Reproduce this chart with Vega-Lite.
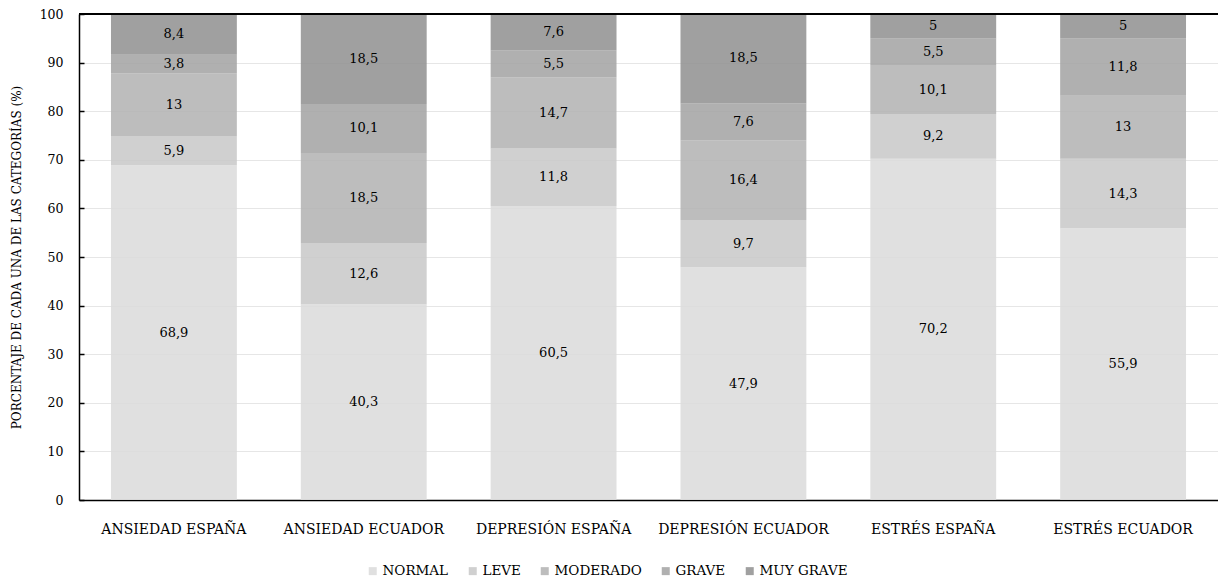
{
  "$schema": "https://vega.github.io/schema/vega-lite/v6.json",
  "width": 1139,
  "height": 486,
  "autosize": {"type": "none"},
  "padding": {"left": 79, "top": 14, "right": 0, "bottom": 79},
  "config": {
    "font": "DejaVu Serif",
    "view": {"stroke": null},
    "locale": {"number": {"decimal": ",", "thousands": ".", "grouping": [3], "currency": ["", " €"]}}
  },
  "data": {
    "values": [
      {"grupo": "ANSIEDAD ESPAÑA", "nivel": "NORMAL", "orden": 1, "valor": 68.9},
      {"grupo": "ANSIEDAD ESPAÑA", "nivel": "LEVE", "orden": 2, "valor": 5.9},
      {"grupo": "ANSIEDAD ESPAÑA", "nivel": "MODERADO", "orden": 3, "valor": 13},
      {"grupo": "ANSIEDAD ESPAÑA", "nivel": "GRAVE", "orden": 4, "valor": 3.8},
      {"grupo": "ANSIEDAD ESPAÑA", "nivel": "MUY GRAVE", "orden": 5, "valor": 8.4},
      {"grupo": "ANSIEDAD ECUADOR", "nivel": "NORMAL", "orden": 1, "valor": 40.3},
      {"grupo": "ANSIEDAD ECUADOR", "nivel": "LEVE", "orden": 2, "valor": 12.6},
      {"grupo": "ANSIEDAD ECUADOR", "nivel": "MODERADO", "orden": 3, "valor": 18.5},
      {"grupo": "ANSIEDAD ECUADOR", "nivel": "GRAVE", "orden": 4, "valor": 10.1},
      {"grupo": "ANSIEDAD ECUADOR", "nivel": "MUY GRAVE", "orden": 5, "valor": 18.5},
      {"grupo": "DEPRESIÓN ESPAÑA", "nivel": "NORMAL", "orden": 1, "valor": 60.5},
      {"grupo": "DEPRESIÓN ESPAÑA", "nivel": "LEVE", "orden": 2, "valor": 11.8},
      {"grupo": "DEPRESIÓN ESPAÑA", "nivel": "MODERADO", "orden": 3, "valor": 14.7},
      {"grupo": "DEPRESIÓN ESPAÑA", "nivel": "GRAVE", "orden": 4, "valor": 5.5},
      {"grupo": "DEPRESIÓN ESPAÑA", "nivel": "MUY GRAVE", "orden": 5, "valor": 7.6},
      {"grupo": "DEPRESIÓN ECUADOR", "nivel": "NORMAL", "orden": 1, "valor": 47.9},
      {"grupo": "DEPRESIÓN ECUADOR", "nivel": "LEVE", "orden": 2, "valor": 9.7},
      {"grupo": "DEPRESIÓN ECUADOR", "nivel": "MODERADO", "orden": 3, "valor": 16.4},
      {"grupo": "DEPRESIÓN ECUADOR", "nivel": "GRAVE", "orden": 4, "valor": 7.6},
      {"grupo": "DEPRESIÓN ECUADOR", "nivel": "MUY GRAVE", "orden": 5, "valor": 18.5},
      {"grupo": "ESTRÉS ESPAÑA", "nivel": "NORMAL", "orden": 1, "valor": 70.2},
      {"grupo": "ESTRÉS ESPAÑA", "nivel": "LEVE", "orden": 2, "valor": 9.2},
      {"grupo": "ESTRÉS ESPAÑA", "nivel": "MODERADO", "orden": 3, "valor": 10.1},
      {"grupo": "ESTRÉS ESPAÑA", "nivel": "GRAVE", "orden": 4, "valor": 5.5},
      {"grupo": "ESTRÉS ESPAÑA", "nivel": "MUY GRAVE", "orden": 5, "valor": 5},
      {"grupo": "ESTRÉS ECUADOR", "nivel": "NORMAL", "orden": 1, "valor": 55.9},
      {"grupo": "ESTRÉS ECUADOR", "nivel": "LEVE", "orden": 2, "valor": 14.3},
      {"grupo": "ESTRÉS ECUADOR", "nivel": "MODERADO", "orden": 3, "valor": 13},
      {"grupo": "ESTRÉS ECUADOR", "nivel": "GRAVE", "orden": 4, "valor": 11.8},
      {"grupo": "ESTRÉS ECUADOR", "nivel": "MUY GRAVE", "orden": 5, "valor": 5}
    ]
  },
  "encoding": {
    "x": {
      "field": "grupo",
      "type": "nominal",
      "sort": null,
      "scale": {"paddingInner": 0.337, "paddingOuter": 0.1685},
      "axis": {
        "title": null,
        "labelAngle": 0,
        "labelFont": "DejaVu Serif",
        "labelFontSize": 14,
        "labelColor": "#000000",
        "labelPadding": 22,
        "ticks": false,
        "domainColor": "#000000",
        "domainWidth": 1.5
      }
    },
    "y": {
      "field": "valor",
      "type": "quantitative",
      "stack": "zero",
      "scale": {"domain": [0, 100], "nice": false},
      "axis": {
        "title": "PORCENTAJE DE CADA UNA DE LAS CATEGORÍAS (%)",
        "titleFont": "DejaVu Serif",
        "titleFontSize": 12,
        "titleFontWeight": "normal",
        "titleColor": "#000000",
        "titlePadding": 16,
        "values": [0, 10, 20, 30, 40, 50, 60, 70, 80, 90, 100],
        "labelFont": "DejaVu Serif",
        "labelFontSize": 12.5,
        "labelColor": "#000000",
        "labelPadding": 21,
        "ticks": true,
        "tickSize": -5,
        "tickColor": "#000000",
        "tickWidth": 1.5,
        "domainColor": "#000000",
        "domainWidth": 1.5,
        "gridColor": "#e6e6e6",
        "gridWidth": 1.2
      }
    },
    "order": {"field": "orden", "type": "quantitative"}
  },
  "layer": [
    {
      "mark": {"type": "bar", "opacity": 0.85},
      "encoding": {
        "color": {
          "field": "nivel",
          "type": "nominal",
          "sort": ["NORMAL", "LEVE", "MODERADO", "GRAVE", "MUY GRAVE"],
          "scale": {
            "domain": ["NORMAL", "LEVE", "MODERADO", "GRAVE", "MUY GRAVE"],
            "range": ["#dadada", "#c8c8c8", "#b1b1b1", "#a2a2a2", "#8f8f8f"]
          },
          "legend": {
            "title": null,
            "orient": "none",
            "legendX": 287,
            "legendY": 550,
            "padding": 0,
            "direction": "horizontal",
            "symbolType": "square",
            "symbolSize": 64,
            "symbolStrokeWidth": 0,
            "labelFont": "DejaVu Serif",
            "labelFontSize": 13.5,
            "labelColor": "#000000",
            "labelOffset": 3,
            "columnPadding": 17
          }
        }
      }
    },
    {
      "mark": {"type": "text", "font": "DejaVu Serif", "fontSize": 13, "color": "#000000", "baseline": "middle"},
      "encoding": {
        "y": {"field": "valor", "type": "quantitative", "stack": "zero", "bandPosition": 0.5},
        "text": {"field": "valor", "type": "quantitative", "format": "~r"}
      }
    },
    {
      "mark": {"type": "rule", "color": "#000000", "strokeWidth": 1.5},
      "encoding": {
        "y": {"datum": 100},
        "x": null
      }
    }
  ]
}
